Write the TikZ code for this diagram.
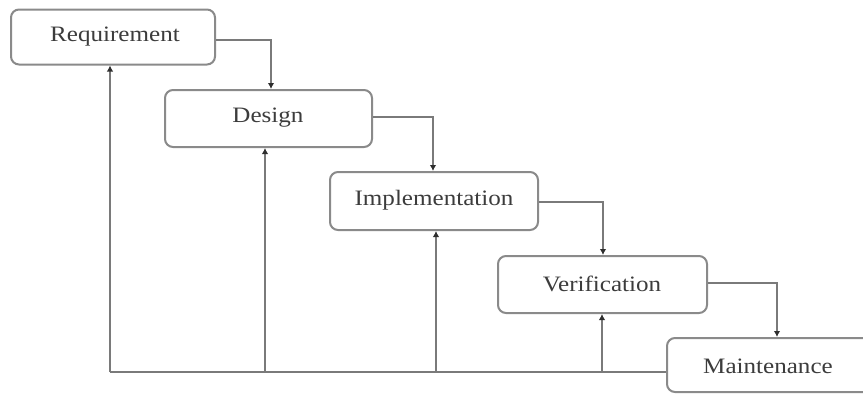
\documentclass[tikz,border=0pt]{standalone}
\usepackage{fontspec}
\setmainfont{Liberation Serif}
\usetikzlibrary{arrows.meta}
\definecolor{boxline}{HTML}{8A8A8A}
\definecolor{conn}{HTML}{7A7A7A}
\definecolor{tip}{HTML}{2E2E2E}
\definecolor{txt}{HTML}{3C3C3C}
\begin{document}
\begin{tikzpicture}[x=1pt,y=-1pt,
  phase/.style={draw=boxline, line width=2pt, rounded corners=8pt, fill=white, inner sep=0pt},
  lbl/.style={text=txt, font=\fontsize{22}{24}\selectfont, xscale=1.14},
  flow/.style={draw=conn, line width=1.8pt, -{Latex[length=6pt,width=6.5pt,color=tip]}},
  base/.style={draw=conn, line width=1.8pt}]
\useasboundingbox (0,0) rectangle (863,394);
\begin{scope}
\clip (0,0) rectangle (863,394);
\node[phase, minimum width=204pt, minimum height=55pt] (req) at (113,37) {};
\node[phase, minimum width=207pt, minimum height=57pt] (des) at (268.5,118.5) {};
\node[phase, minimum width=208pt, minimum height=58pt] (imp) at (434,201) {};
\node[phase, minimum width=209pt, minimum height=57pt] (ver) at (602.5,284.5) {};
\node[phase, minimum width=210pt, minimum height=54pt] (mai) at (772,365) {};
\end{scope}
\node[lbl] at (115,37) {Requirement};
\node[lbl] at (268,118) {Design};
\node[lbl] at (434,200) {Implementation};
\node[lbl] at (602,284) {Verification};
\node[lbl] at (768,366) {Maintenance};
% forward flow
\draw[flow] (req.east |- 0,40) -| (des.north -| 271,0);
\draw[flow] (des.east |- 0,117) -| (imp.north -| 433,0);
\draw[flow] (imp.east |- 0,202) -| (ver.north -| 603,0);
\draw[flow] (ver.east |- 0,283) -| (mai.north -| 777,0);
% feedback
\coordinate (c1) at (110,372);
\coordinate (c2) at (265,372);
\coordinate (c3) at (436,372);
\coordinate (c4) at (602,372);
\draw[base] (mai.west |- c1) -- (c1);
\draw[flow] (c1) -- (req.south -| c1);
\draw[flow] (c2) -- (des.south -| c2);
\draw[flow] (c3) -- (imp.south -| c3);
\draw[flow] (c4) -- (ver.south -| c4);
\end{tikzpicture}
\end{document}
